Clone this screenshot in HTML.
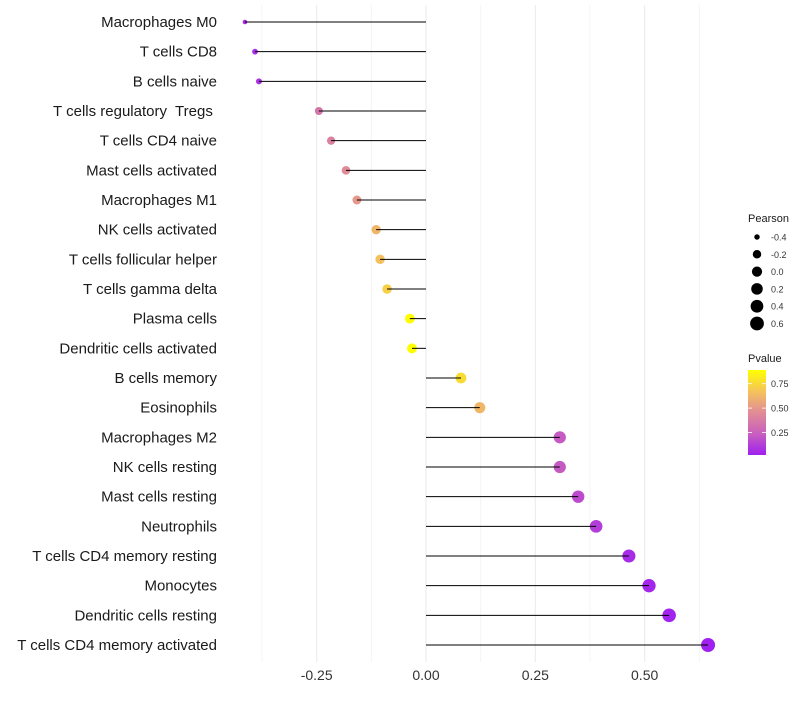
<!DOCTYPE html>
<html><head><meta charset="utf-8"><style>
body{margin:0;background:#fff;font-family:"Liberation Sans",sans-serif}
text{white-space:pre}
</style></head><body>
<svg id="c" width="800" height="700" xmlns="http://www.w3.org/2000/svg"></svg>
<script>
const categories=["Macrophages M0","T cells CD8","B cells naive","T cells regulatory  Tregs ","T cells CD4 naive","Mast cells activated","Macrophages M1","NK cells activated","T cells follicular helper","T cells gamma delta","Plasma cells","Dendritic cells activated","B cells memory","Eosinophils","Macrophages M2","NK cells resting","Mast cells resting","Neutrophils","T cells CD4 memory resting","Monocytes","Dendritic cells resting","T cells CD4 memory activated"];
const pearson=[-0.414,-0.391,-0.382,-0.245,-0.217,-0.183,-0.158,-0.114,-0.105,-0.089,-0.037,-0.032,0.080,0.123,0.306,0.306,0.348,0.389,0.464,0.510,0.556,0.645];
const pvalue=[0.05,0.07,0.08,0.35,0.40,0.45,0.50,0.62,0.66,0.72,0.88,0.89,0.76,0.62,0.22,0.22,0.17,0.12,0.06,0.04,0.03,0.02];
const xTicks=[-0.25,0,0.25,0.5];
const xTickLabels=["-0.25","0.00","0.25","0.50"];
const sizeLegend=[-0.4,-0.2,0.0,0.2,0.4,0.6];
const sizeLegendLabels=["-0.4","-0.2","0.0","0.2","0.4","0.6"];
const pLegend=[0.25,0.5,0.75];
const pLegendLabels=["0.25","0.50","0.75"];
const NS="http://www.w3.org/2000/svg";
const svg=document.getElementById('c');
function X(v){return 426+v*437.3;}
function Y(i){return 22+i*29.667;}
function R(v){const t=Math.max(0,(v+0.414)/1.059);return 2.3+4.7*Math.pow(t,0.55);}
function lerp(a,b,t){return a.map((x,k)=>Math.round(x+(b[k]-x)*t));}
function col(p){const t=Math.max(0,Math.min(1,(p-0.02)/0.87));
 const s=[[160,32,240],[200,95,190],[225,140,150],[245,195,90],[255,255,0]];
 const n=s.length-1;const k=Math.min(n-1,Math.floor(t*n));
 return `rgb(${lerp(s[k],s[k+1],t*n-k)})`;}
function mk(tag,attrs,parent){const e=document.createElementNS(NS,tag);for(const k in attrs)e.setAttribute(k,attrs[k]);(parent||svg).appendChild(e);return e;}
[-0.375,-0.125,0.125,0.375,0.625].forEach(v=>{const g=mk('line',{x1:X(v),x2:X(v),y1:5,y2:662,stroke:'#f3f3f3','stroke-width':0.8});

});
xTicks.forEach((v,i)=>{const g=mk('line',{x1:X(v),x2:X(v),y1:5,y2:662,stroke:'#ebebeb','stroke-width':1.1});


const t=mk('text',{x:X(v),y:680,'text-anchor':'middle','font-size':14,fill:'#333'});t.textContent=xTickLabels[i];

});
categories.forEach((c,i)=>{const y=Y(i);
const t=mk('text',{x:217,y:y+5,'text-anchor':'end','font-size':15,fill:'#1a1a1a','xml:space':'preserve'});t.textContent=c;


const d=mk('circle',{cx:X(pearson[i]),cy:y,r:R(pearson[i]),fill:col(pvalue[i])});


const l=mk('line',{x1:X(0),x2:X(pearson[i]),y1:y,y2:y,stroke:'#000','stroke-width':1});

});
const lt=mk('text',{x:748,y:222,'font-size':11,fill:'#1a1a1a'});lt.textContent='Pearson';


sizeLegend.forEach((v,i)=>{const y=237+i*17.3;
const d=mk('circle',{cx:757,cy:y,r:R(v),fill:'#000'});


const t=mk('text',{x:771,y:y+3.5,'font-size':9,fill:'#333'});t.textContent=sizeLegendLabels[i];

});
const pt=mk('text',{x:748,y:362,'font-size':11,fill:'#1a1a1a'});pt.textContent='Pvalue';


const defs=mk('defs',{});const lg=mk('linearGradient',{id:'g',x1:0,y1:1,x2:0,y2:0},defs);
[0,0.25,0.5,0.75,1].forEach(o=>mk('stop',{offset:o,'stop-color':col(0.02+o*0.87)},lg));
const bar=mk('rect',{x:748,y:370,width:18,height:85,fill:'url(#g)'});


pLegend.forEach((p,i)=>{const y=455-(p-0.02)/0.87*85;
mk('line',{x1:748,x2:752,y1:y,y2:y,stroke:'#fff','stroke-width':0.8});mk('line',{x1:762,x2:766,y1:y,y2:y,stroke:'#fff','stroke-width':0.8});
const t=mk('text',{x:771,y:y+3.5,'font-size':9,fill:'#333'});t.textContent=pLegendLabels[i];

});
</script>
</body></html>
